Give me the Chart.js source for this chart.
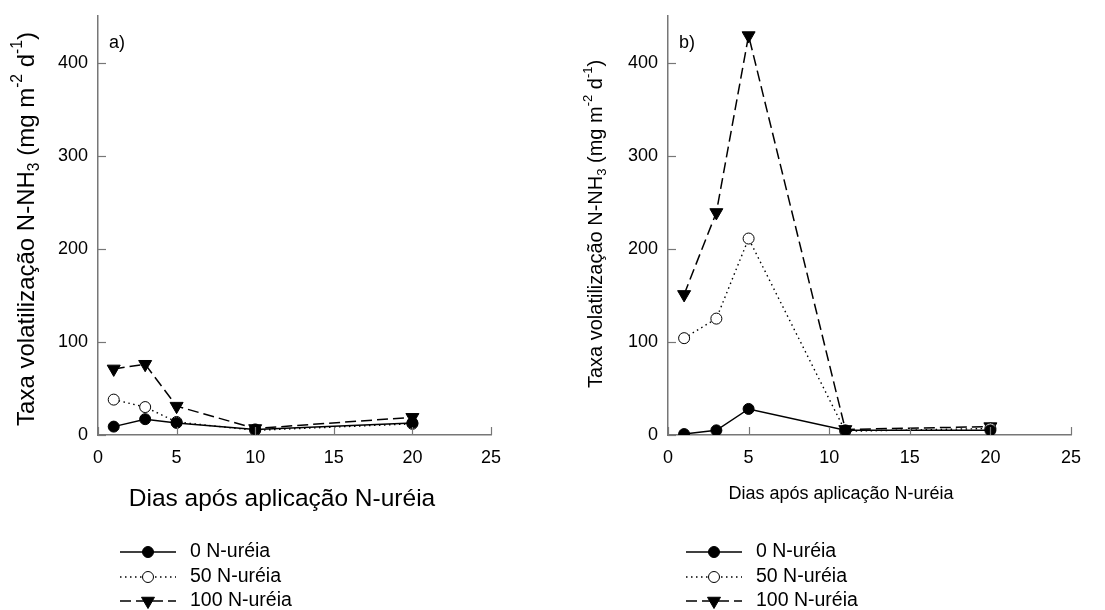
<!DOCTYPE html>
<html>
<head>
<meta charset="utf-8">
<script src="https://cdn.jsdelivr.net/npm/chart.js@4.4.0/dist/chart.umd.min.js"></script>
<style>
  body { margin: 0; background: #fff; }
  #wrap { position: relative; width: 1105px; height: 610px; }
  canvas { position: absolute; top: 0; }
</style>
</head>
<body>
<div id="wrap">
  <canvas id="chartA" width="552" height="610" style="left:0"></canvas>
  <canvas id="chartB" width="553" height="610" style="left:552px"></canvas>
</div>
<script>
// Volatilization rate per treatment, panel a) and panel b)
const seriesNames = ['0 N-uréia', '50 N-uréia', '100 N-uréia'];

const daysA = [1, 3, 5, 10, 20];
const urea0A = [9, 17, 13, 6, 13];
const urea50A = [38, 30, 14, 5, 12];
const urea100A = [71, 76, 31, 7, 19];

const daysB = [1, 3, 5, 11, 20];
const urea0B = [1, 5, 28, 5, 5];
const urea50B = [104, 125, 211, 4, 7];
const urea100B = [151, 239, 429, 6, 9];

const xTicks = [0, 5, 10, 15, 20, 25];
const yTicks = [0, 100, 200, 300, 400];

const FONT = "'Liberation Sans', Arial, sans-serif";
const AXIS_GREY = '#777';

Chart.defaults.font.family = FONT;
Chart.defaults.color = '#000';

const yTitleParts = [
  { t: 'Taxa volatilização N-NH' },
  { t: '3', sub: true },
  { t: ' (mg m' },
  { t: '-2', sup: true },
  { t: ' d' },
  { t: '-1', sup: true },
  { t: ')' }
];

function drawRich(ctx, parts, size, cx, cy, rotate) {
  ctx.save();
  ctx.translate(cx, cy);
  if (rotate) ctx.rotate(-Math.PI / 2);
  ctx.fillStyle = '#000';
  ctx.textBaseline = 'middle';
  ctx.textAlign = 'left';
  const fontOf = p => ((p.sub || p.sup) ? size * 0.65 : size) + 'px ' + FONT;
  let total = 0;
  parts.forEach(p => { ctx.font = fontOf(p); total += ctx.measureText(p.t).width; });
  let x = -total / 2;
  parts.forEach(p => {
    ctx.font = fontOf(p);
    const dy = p.sub ? size * 0.32 : p.sup ? -size * 0.38 : 0;
    ctx.fillText(p.t, x, dy);
    x += ctx.measureText(p.t).width;
  });
  ctx.restore();
}

function makeDatasets(days, s0, s50, s100) {
  const pts = arr => arr.map((v, i) => ({ x: days[i], y: v }));
  return [
    {
      label: seriesNames[0], data: pts(s0),
      borderColor: '#000', borderWidth: 1.5,
      pointStyle: 'circle', pointRadius: 5.5,
      pointBackgroundColor: '#000', pointBorderColor: '#000', pointBorderWidth: 1
    },
    {
      label: seriesNames[1], data: pts(s50),
      borderColor: '#000', borderWidth: 1.4, borderDash: [1.5, 3.5],
      pointStyle: 'circle', pointRadius: 5.5,
      pointBackgroundColor: '#fff', pointBorderColor: '#000', pointBorderWidth: 1
    },
    {
      label: seriesNames[2], data: pts(s100),
      borderColor: '#000', borderWidth: 1.5, borderDash: [11, 5],
      pointStyle: 'triangle', pointRotation: 180, pointRadius: 7.5,
      pointBackgroundColor: '#000', pointBorderColor: '#000', pointBorderWidth: 1
    }
  ];
}

// draws inner ticks, panel letter, axis titles and the legend under the plot
function decorations(cfg) {
  return {
    id: 'decorations',
    afterDraw(chart) {
      const ctx = chart.ctx;
      const xs = chart.scales.x, ys = chart.scales.y;
      const area = chart.chartArea;

      ctx.save();
      ctx.strokeStyle = AXIS_GREY;
      ctx.lineWidth = 1.2;
      xTicks.forEach(v => {
        const px = Math.round(xs.getPixelForValue(v)) + 0.5;
        ctx.beginPath();
        ctx.moveTo(px, area.bottom);
        ctx.lineTo(px, area.bottom - 8);
        ctx.stroke();
      });
      yTicks.forEach(v => {
        const py = Math.round(ys.getPixelForValue(v)) + 0.5;
        ctx.beginPath();
        ctx.moveTo(area.left, py);
        ctx.lineTo(area.left + 8, py);
        ctx.stroke();
      });
      ctx.restore();

      ctx.save();
      ctx.fillStyle = '#000';
      ctx.font = '18px ' + FONT;
      ctx.textBaseline = 'middle';
      ctx.fillText(cfg.letter, area.left + 11, 43);

      drawRich(ctx, yTitleParts, cfg.yTitleSize, cfg.yTitleX, cfg.yTitleY, true);

      ctx.font = cfg.xTitleSize + 'px ' + FONT;
      ctx.textAlign = 'center';
      ctx.fillText('Dias após aplicação N-uréia', cfg.xTitleX, cfg.xTitleY);
      ctx.restore();

      // legend rows
      const rows = [552, 577, 601];
      chart.data.datasets.forEach((ds, i) => {
        const y = rows[i];
        ctx.save();
        ctx.strokeStyle = '#000';
        ctx.lineWidth = ds.borderWidth;
        ctx.setLineDash(ds.borderDash || []);
        ctx.beginPath();
        ctx.moveTo(cfg.legendX, y);
        ctx.lineTo(cfg.legendX + 56, y);
        ctx.stroke();
        ctx.setLineDash([]);
        ctx.fillStyle = ds.pointBackgroundColor;
        ctx.lineWidth = ds.pointBorderWidth;
        Chart.helpers.drawPoint(ctx, {
          pointStyle: ds.pointStyle,
          radius: ds.pointRadius,
          rotation: ds.pointRotation || 0,
          borderWidth: ds.pointBorderWidth
        }, cfg.legendX + 28, y);
        ctx.fillStyle = '#000';
        ctx.font = '19.5px ' + FONT;
        ctx.textBaseline = 'middle';
        ctx.textAlign = 'left';
        ctx.fillText(ds.label, cfg.legendX + 70, y);
        ctx.restore();
      });
    }
  };
}

function noPad(s) {
  s.paddingTop = 0;
  s.paddingBottom = 0;
  s.paddingLeft = 0;
  s.paddingRight = 0;
}

function buildPanel(canvasId, datasets, cfg) {
  return new Chart(document.getElementById(canvasId), {
    type: 'line',
    data: { datasets },
    options: {
      responsive: false,
      animation: false,
      events: [],
      layout: { padding: { left: 0, right: cfg.padRight, top: 16, bottom: 135 } },
      plugins: { legend: { display: false }, tooltip: { enabled: false } },
      scales: {
        x: {
          type: 'linear', min: 0, max: 25,
          afterBuildTicks: s => { s.ticks = xTicks.map(v => ({ value: v })); },
          afterFit: s => { s.height = 40; noPad(s); },
          grid: { display: false, drawTicks: false },
          border: { display: true, color: AXIS_GREY, width: 1.5 },
          ticks: { font: { size: 18 }, color: '#000', padding: 12, maxRotation: 0 }
        },
        y: {
          type: 'linear', min: 0, max: 450,
          afterBuildTicks: s => { s.ticks = yTicks.map(v => ({ value: v })); },
          afterFit: s => { s.width = cfg.yWidth; noPad(s); },
          grid: { display: false, drawTicks: false },
          border: { display: true, color: AXIS_GREY, width: 1.5 },
          ticks: { font: { size: 18 }, color: '#000', padding: 10 }
        }
      }
    },
    plugins: [decorations(cfg)]
  });
}

buildPanel('chartA', makeDatasets(daysA, urea0A, urea50A, urea100A), {
  padRight: 61, yWidth: 98, letter: 'a)',
  yTitleSize: 24, yTitleX: 27, yTitleY: 229,
  xTitleSize: 24.5, xTitleX: 282, xTitleY: 499,
  legendX: 120
});

buildPanel('chartB', makeDatasets(daysB, urea0B, urea50B, urea100B), {
  padRight: 34, yWidth: 116, letter: 'b)',
  yTitleSize: 20, yTitleX: 44, yTitleY: 224,
  xTitleSize: 18, xTitleX: 289, xTitleY: 494,
  legendX: 134
});
</script>
</body>
</html>
